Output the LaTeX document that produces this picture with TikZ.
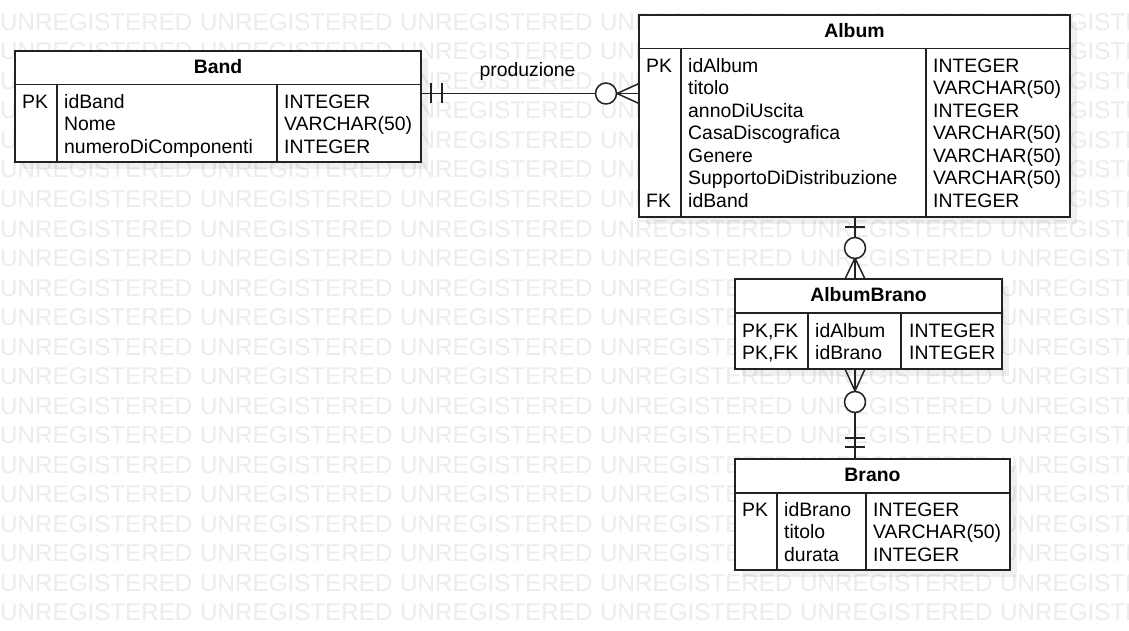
\documentclass[tikz,border=0pt]{standalone}
\usepackage{fontspec}
\setmainfont{Liberation Sans}
\usetikzlibrary{shadows,calc}
\definecolor{wmc}{RGB}{236,236,236}
\definecolor{linec}{RGB}{34,34,34}
\newcommand\ercell{\fontsize{19.4}{22.5}\selectfont}
\newcommand\erhead{\fontsize{19.4}{22.5}\selectfont\bfseries}
\newcommand\erwm{\fontsize{24.2}{29.5}\selectfont}
\newcommand\ertable[8]{%
  \node[tbl, minimum width=#4pt, minimum height=#5pt] (#1) at (#2,#3) {};
  \draw[grid] ($(#1.north west)+(0,#6)$) -- ($(#1.north east)+(0,#6)$);
  \draw[grid] ($(#1.north west)+(#7,#6)$) -- ($(#1.south west)+(#7,0)$);
  \draw[grid] ($(#1.north west)+(#8,#6)$) -- ($(#1.south west)+(#8,0)$);
}
\begin{document}
\begin{tikzpicture}[x=1pt,y=-1pt,
  tbl/.style={draw=linec, line width=1.5pt, fill=white, inner sep=0pt, outer sep=0pt,
    anchor=north west,
    drop shadow={shadow xshift=7pt, shadow yshift=-7pt, fill=black, opacity=0.06}},
  grid/.style={draw=linec, line width=1.5pt},
  conn/.style={draw=linec, line width=1.5pt},
  cell/.style={anchor=base west, inner sep=0pt, font=\ercell, text=black},
  hdr/.style={anchor=base, inner sep=0pt, font=\erhead, text=black},
  wm/.style={anchor=base west, inner sep=0pt, font=\erwm, text=wmc},
  lbl/.style={anchor=base, inner sep=0pt, font=\ercell, text=black}]
\useasboundingbox (0,0) rectangle (1129,631);
\fill[white] (0,0) rectangle (1129,631);
% watermark
\begin{scope}
\clip (0,0) rectangle (1129,631);
\foreach \r in {0,...,20}{
  \foreach \c in {0,...,5}{
    \node[wm] (wm-\r-\c) at (\c*200, 30.5+\r*29.5) {UNREGISTERED};
  }
}
\end{scope}
% tables
\ertable{band}{15}{51}{406}{111}{33.3}{42}{262}
\ertable{album}{639}{15}{431}{202}{33.5}{42}{287}
\ertable{albumbrano}{735}{279}{267}{90}{34}{73}{166}
\ertable{brano}{735}{459}{275}{111}{34}{42}{131}
% Band
\node[hdr] (band-h) at (218,73.3) {Band};
\node[cell] (band-k0) at (22,108.3) {PK};
\foreach \t [count=\i from 0] in {idBand,Nome,numeroDiComponenti}
  \node[cell] (band-n\i) at (64,108.3+\i*22.5) {\t};
\foreach \t [count=\i from 0] in {INTEGER,VARCHAR(50),INTEGER}
  \node[cell] (band-t\i) at (284,108.3+\i*22.5) {\t};
% Album
\node[hdr] (album-h) at (854.5,37.5) {Album};
\node[cell] (album-k0) at (646,72.5) {PK};
\node[cell] (album-k6) at (646,207.5) {FK};
\foreach \t [count=\i from 0] in {idAlbum,titolo,annoDiUscita,CasaDiscografica,Genere,SupportoDiDistribuzione,idBand}
  \node[cell] (album-n\i) at (688,72.5+\i*22.5) {\t};
\foreach \t [count=\i from 0] in {INTEGER,VARCHAR(50),INTEGER,VARCHAR(50),VARCHAR(50),VARCHAR(50),INTEGER}
  \node[cell] (album-t\i) at (933,72.5+\i*22.5) {\t};
% AlbumBrano
\node[hdr] (ab-h) at (868.5,301.7) {AlbumBrano};
\foreach \t [count=\i from 0] in {{PK,FK},{PK,FK}}
  \node[cell] (ab-k\i) at (742,337+\i*22.5) {\t};
\foreach \t [count=\i from 0] in {idAlbum,idBrano}
  \node[cell] (ab-n\i) at (815,337+\i*22.5) {\t};
\foreach \t [count=\i from 0] in {INTEGER,INTEGER}
  \node[cell] (ab-t\i) at (909,337+\i*22.5) {\t};
% Brano
\node[hdr] (brano-h) at (872.5,481.7) {Brano};
\node[cell] (brano-k0) at (742,516) {PK};
\foreach \t [count=\i from 0] in {idBrano,titolo,durata}
  \node[cell] (brano-n\i) at (784,516+\i*22.5) {\t};
\foreach \t [count=\i from 0] in {INTEGER,VARCHAR(50),INTEGER}
  \node[cell] (brano-t\i) at (873,516+\i*22.5) {\t};
% connector Band - Album
\coordinate (r1) at (530,93.5);
\draw[conn] (r1 -| band.east) -- (r1 -| album.west);
\draw[conn] ($(r1 -| band.east)+(10,-10)$) -- ++(0,20);
\draw[conn] ($(r1 -| band.east)+(21,-10)$) -- ++(0,20);
\draw[conn] ($(r1 -| album.west)+(-22,0)$) -- ($(r1 -| album.west)+(0,-10)$);
\draw[conn] ($(r1 -| album.west)+(-22,0)$) -- ($(r1 -| album.west)+(0,10)$);
\draw[conn, fill=white] ($(r1 -| album.west)+(-33,0)$) circle[radius=10.5pt];
\node[lbl] (rel-lbl) at (527.5,77) {produzione};
% connector Album - AlbumBrano
\coordinate (r2) at (855,250);
\draw[conn] (r2 |- album.south) -- (r2 |- albumbrano.north);
\draw[conn] ($(r2 |- album.south)+(-10,10)$) -- ++(20,0);
\draw[conn] ($(r2 |- albumbrano.north)+(0,-21)$) -- ($(r2 |- albumbrano.north)+(-10,0)$);
\draw[conn] ($(r2 |- albumbrano.north)+(0,-21)$) -- ($(r2 |- albumbrano.north)+(10,0)$);
\draw[conn, fill=white] ($(r2 |- album.south)+(0,31)$) circle[radius=10.5pt];
% connector AlbumBrano - Brano
\coordinate (r3) at (855,410);
\draw[conn] (r3 |- albumbrano.south) -- (r3 |- brano.north);
\draw[conn] ($(r3 |- albumbrano.south)+(0,22)$) -- ($(r3 |- albumbrano.south)+(-10,0)$);
\draw[conn] ($(r3 |- albumbrano.south)+(0,22)$) -- ($(r3 |- albumbrano.south)+(10,0)$);
\draw[conn, fill=white] ($(r3 |- albumbrano.south)+(0,33)$) circle[radius=10.5pt];
\draw[conn] ($(r3 |- brano.north)+(-10,-21)$) -- ++(20,0);
\draw[conn] ($(r3 |- brano.north)+(-10,-12)$) -- ++(20,0);
\end{tikzpicture}
\end{document}
